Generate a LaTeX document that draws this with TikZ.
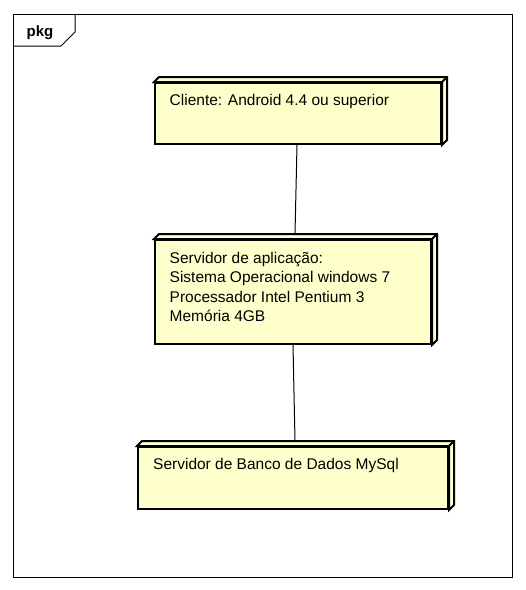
\documentclass[tikz,border=0pt]{standalone}
\usepackage{fontspec}
\setmainfont{Liberation Sans}
\definecolor{nodefill}{RGB}{255,255,204}
\tikzset{
  deploy/.style={draw=black, line width=2pt, fill=nodefill, rectangle, inner sep=0pt, line join=miter},
  face/.style={draw=black, line width=2pt, fill=nodefill, line join=miter},
  lbl/.style={anchor=north west, inner sep=0pt, align=left, font=\fontsize{15.5pt}{19.3pt}\selectfont},
  conn/.style={draw=black, line width=1pt},
}
\newcommand{\cube}[1]{%
  \filldraw[face] (#1.north west) -- ([shift={(5,-5)}]#1.north west) -- ([shift={(5,-5)}]#1.north east) -- ([shift={(5,-5)}]#1.south east) -- (#1.south east) -- (#1.north east) -- cycle;
  \draw[face, fill=none] (#1.north east) -- ([shift={(5,-5)}]#1.north east);
}
\begin{document}
\begin{tikzpicture}[x=1pt, y=-1pt]
\useasboundingbox (0,0) rectangle (526,590);
% frame
\draw[line width=1pt] (13,14) rectangle (512,577);
\draw[line width=1pt] (13,46) -- (61,46) -- (75,32) -- (75,14);
\node[anchor=base west, inner sep=0pt, font=\fontsize{15pt}{18pt}\selectfont\bfseries] (pkg) at (26.5,36.7) {pkg};
% nodes
\node[deploy, minimum width=286pt, minimum height=61pt] (n1) at (298,113.5) {};
\cube{n1}
\node[deploy, minimum width=276pt, minimum height=104pt] (n2) at (293,292) {};
\cube{n2}
\node[deploy, minimum width=310pt, minimum height=62pt] (n3) at (293,478) {};
\cube{n3}
% texts
\node[lbl] (t1) at (169.5,94.5) {Cliente: Android 4.4 ou superior};
\node[lbl] (t2) at (169.5,252) {Servidor de aplicação:\\Sistema Operacional windows 7\\Processador Intel Pentium 3\\Memória 4GB};
\node[lbl] (t3) at (153,458.5) {Servidor de Banco de Dados MySql};
% connectors
\draw[conn] ([xshift=-1pt]n1.south) -- ([shift={(2,-5)}]n2.north);
\draw[conn] (n2.south) -- ([shift={(2,-5)}]n3.north);
\end{tikzpicture}
\end{document}
